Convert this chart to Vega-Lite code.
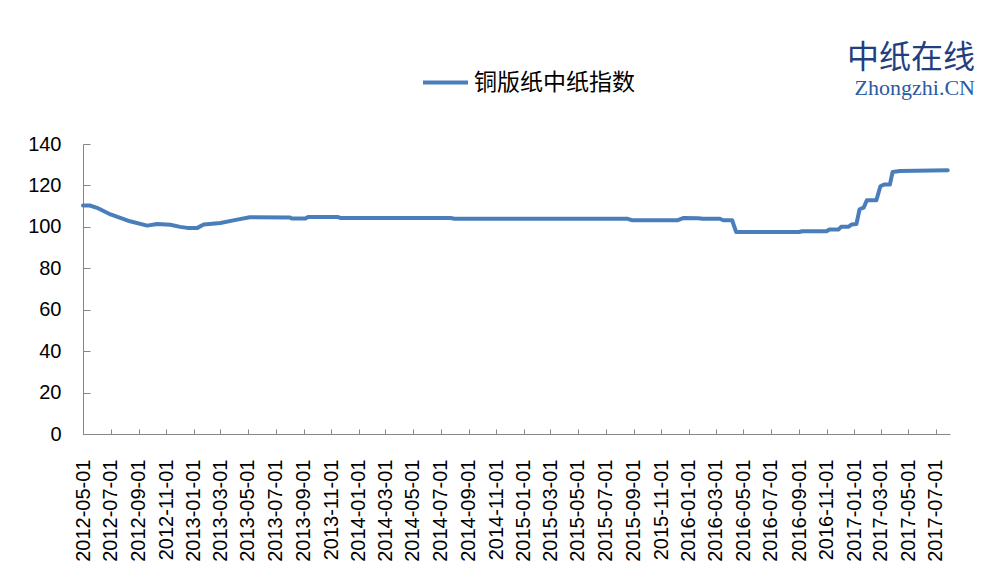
{
  "$schema": "https://vega.github.io/schema/vega-lite/v6.json",
  "width": 867,
  "height": 290,
  "padding": {"left": 27, "top": 42, "right": 5, "bottom": 5},
  "background": "white",
  "title": {
    "text": "中纸在线",
    "subtitle": "Zhongzhi.CN",
    "anchor": "end",
    "frame": "group",
    "orient": "top",
    "offset": -42,
    "dx": 25,
    "font": "Noto Sans CJK SC",
    "fontSize": 32,
    "fontWeight": "normal",
    "color": "#1F3F7F",
    "subtitleFont": "Liberation Serif",
    "subtitleFontSize": 22,
    "subtitleColor": "#2B5BA0",
    "subtitlePadding": 3
  },
  "data": {
    "values": [
      {"date": "2012-05-01", "index": 110.3},
      {"date": "2012-05-16", "index": 110.3},
      {"date": "2012-06-01", "index": 109.2},
      {"date": "2012-07-01", "index": 106.0},
      {"date": "2012-08-13", "index": 102.7},
      {"date": "2012-09-20", "index": 100.6},
      {"date": "2012-10-12", "index": 101.4},
      {"date": "2012-11-10", "index": 101.0},
      {"date": "2012-12-02", "index": 100.0},
      {"date": "2012-12-18", "index": 99.5},
      {"date": "2013-01-09", "index": 99.5},
      {"date": "2013-01-23", "index": 101.1},
      {"date": "2013-03-01", "index": 101.9},
      {"date": "2013-04-07", "index": 103.5},
      {"date": "2013-05-05", "index": 104.6},
      {"date": "2013-08-02", "index": 104.5},
      {"date": "2013-08-06", "index": 104.0},
      {"date": "2013-09-05", "index": 104.0},
      {"date": "2013-09-11", "index": 104.8},
      {"date": "2013-11-15", "index": 104.8},
      {"date": "2013-11-21", "index": 104.3},
      {"date": "2014-07-23", "index": 104.3},
      {"date": "2014-08-01", "index": 103.9},
      {"date": "2015-08-19", "index": 103.9},
      {"date": "2015-08-28", "index": 103.2},
      {"date": "2015-12-08", "index": 103.2},
      {"date": "2015-12-21", "index": 104.3},
      {"date": "2016-01-22", "index": 104.2},
      {"date": "2016-02-01", "index": 103.9},
      {"date": "2016-03-10", "index": 103.9},
      {"date": "2016-03-17", "index": 103.2},
      {"date": "2016-04-06", "index": 103.2},
      {"date": "2016-04-15", "index": 97.5},
      {"date": "2016-09-01", "index": 97.5},
      {"date": "2016-09-08", "index": 97.9},
      {"date": "2016-11-01", "index": 97.9},
      {"date": "2016-11-07", "index": 98.7},
      {"date": "2016-11-27", "index": 98.7},
      {"date": "2016-12-03", "index": 100.0},
      {"date": "2016-12-19", "index": 100.0},
      {"date": "2016-12-26", "index": 101.1},
      {"date": "2017-01-06", "index": 101.4},
      {"date": "2017-01-13", "index": 108.5},
      {"date": "2017-01-22", "index": 109.3},
      {"date": "2017-01-29", "index": 112.8},
      {"date": "2017-02-19", "index": 112.8},
      {"date": "2017-02-28", "index": 119.6},
      {"date": "2017-03-08", "index": 120.4},
      {"date": "2017-03-21", "index": 120.4},
      {"date": "2017-03-27", "index": 126.5},
      {"date": "2017-04-12", "index": 127.0},
      {"date": "2017-07-27", "index": 127.3}
    ]
  },
  "mark": {"type": "line", "strokeWidth": 4, "strokeJoin": "round", "strokeCap": "round"},
  "encoding": {
    "x": {
      "field": "date",
      "type": "temporal",
      "scale": {
        "type": "utc",
        "domain": [
          {"year": 2012, "month": 5, "date": 1, "utc": true},
          {"year": 2017, "month": 8, "date": 1, "utc": true}
        ]
      },
      "axis": {
        "title": null,
        "format": "%Y-%m-%d",
        "labelAngle": -90,
        "labelAlign": "right",
        "labelBaseline": "middle",
        "labelFont": "Liberation Sans",
        "labelFontSize": 20,
        "labelColor": "#000000",
        "labelPadding": 30,
        "labelOverlap": false,
        "labelFlush": false,
        "tickSize": -5,
        "tickColor": "#868686",
        "domainColor": "#868686",
        "grid": false,
        "values": [
          {"year": 2012, "month": 5, "date": 1, "utc": true},
          {"year": 2012, "month": 7, "date": 1, "utc": true},
          {"year": 2012, "month": 9, "date": 1, "utc": true},
          {"year": 2012, "month": 11, "date": 1, "utc": true},
          {"year": 2013, "month": 1, "date": 1, "utc": true},
          {"year": 2013, "month": 3, "date": 1, "utc": true},
          {"year": 2013, "month": 5, "date": 1, "utc": true},
          {"year": 2013, "month": 7, "date": 1, "utc": true},
          {"year": 2013, "month": 9, "date": 1, "utc": true},
          {"year": 2013, "month": 11, "date": 1, "utc": true},
          {"year": 2014, "month": 1, "date": 1, "utc": true},
          {"year": 2014, "month": 3, "date": 1, "utc": true},
          {"year": 2014, "month": 5, "date": 1, "utc": true},
          {"year": 2014, "month": 7, "date": 1, "utc": true},
          {"year": 2014, "month": 9, "date": 1, "utc": true},
          {"year": 2014, "month": 11, "date": 1, "utc": true},
          {"year": 2015, "month": 1, "date": 1, "utc": true},
          {"year": 2015, "month": 3, "date": 1, "utc": true},
          {"year": 2015, "month": 5, "date": 1, "utc": true},
          {"year": 2015, "month": 7, "date": 1, "utc": true},
          {"year": 2015, "month": 9, "date": 1, "utc": true},
          {"year": 2015, "month": 11, "date": 1, "utc": true},
          {"year": 2016, "month": 1, "date": 1, "utc": true},
          {"year": 2016, "month": 3, "date": 1, "utc": true},
          {"year": 2016, "month": 5, "date": 1, "utc": true},
          {"year": 2016, "month": 7, "date": 1, "utc": true},
          {"year": 2016, "month": 9, "date": 1, "utc": true},
          {"year": 2016, "month": 11, "date": 1, "utc": true},
          {"year": 2017, "month": 1, "date": 1, "utc": true},
          {"year": 2017, "month": 3, "date": 1, "utc": true},
          {"year": 2017, "month": 5, "date": 1, "utc": true},
          {"year": 2017, "month": 7, "date": 1, "utc": true}
        ]
      }
    },
    "y": {
      "field": "index",
      "type": "quantitative",
      "scale": {"domain": [0, 140], "nice": false, "zero": true},
      "axis": {
        "title": null,
        "values": [0, 20, 40, 60, 80, 100, 120, 140],
        "labelFont": "Liberation Sans",
        "labelFontSize": 20,
        "labelColor": "#000000",
        "labelPadding": 29,
        "tickSize": -7,
        "tickColor": "#868686",
        "domainColor": "#868686",
        "grid": false
      }
    },
    "color": {
      "datum": "铜版纸中纸指数",
      "type": "nominal",
      "scale": {"range": ["#4A7EBB"]},
      "legend": {
        "title": null,
        "orient": "none",
        "legendX": 338,
        "legendY": -86,
        "direction": "horizontal",
        "symbolType": "stroke",
        "symbolSize": 2025,
        "symbolStrokeWidth": 4,
        "labelFont": "Noto Sans CJK SC",
        "labelFontSize": 23,
        "labelColor": "#000000",
        "labelOffset": 4,
        "labelLimit": 400,
        "padding": 0
      }
    }
  },
  "config": {
    "view": {"stroke": null}
  }
}
